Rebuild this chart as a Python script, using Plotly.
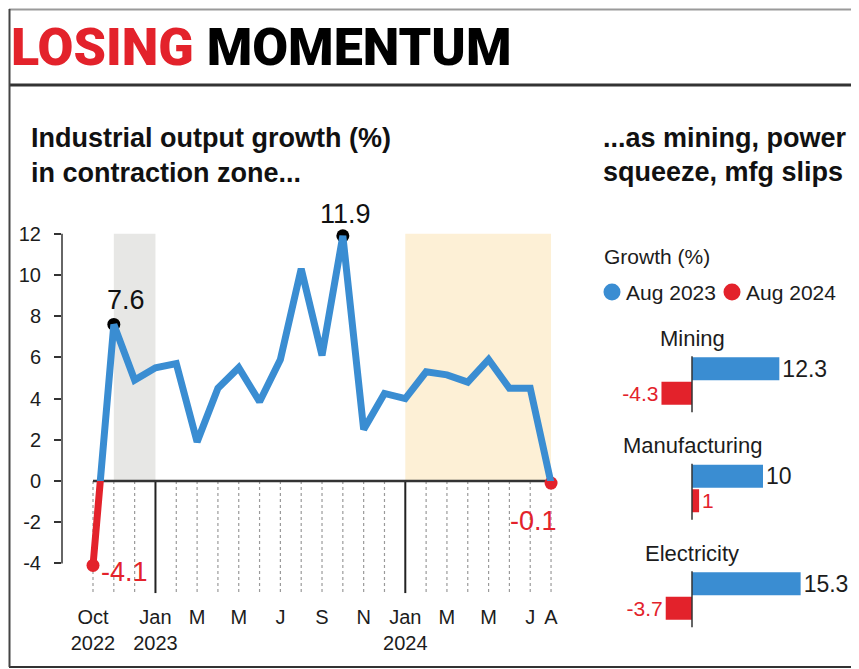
import plotly.graph_objects as go

# ---------------- data ----------------
months = ["Oct 2022", "Nov 2022", "Dec 2022", "Jan 2023", "Feb 2023", "Mar 2023",
          "Apr 2023", "May 2023", "Jun 2023", "Jul 2023", "Aug 2023", "Sep 2023",
          "Oct 2023", "Nov 2023", "Dec 2023", "Jan 2024", "Feb 2024", "Mar 2024",
          "Apr 2024", "May 2024", "Jun 2024", "Jul 2024", "Aug 2024"]
growth = [-4.1, 7.6, 4.9, 5.5, 5.7, 1.9, 4.5, 5.5, 3.85, 5.9, 10.3, 6.1,
          11.9, 2.5, 4.25, 4.0, 5.3, 5.15, 4.8, 5.9, 4.5, 4.5, -0.1]

tick_months = ["Oct 2022", "Jan 2023", "Mar 2023", "May 2023", "Jul 2023", "Sep 2023",
               "Nov 2023", "Jan 2024", "Mar 2024", "May 2024", "Jul 2024", "Aug 2024"]
tick_text = ["Oct<br>2022", "Jan<br>2023", "M", "M", "J", "S", "N",
             "Jan<br>2024", "M", "M", "J", "A"]
y_ticks = [-4, -2, 0, 2, 4, 6, 8, 10, 12]

labeled_months = ["Oct 2022", "Nov 2022", "Oct 2023", "Aug 2024"]
grey_period = ["Nov 2022", "Jan 2023"]
yellow_period = ["Jan 2024", "Aug 2024"]

sectors = ["Mining", "Manufacturing", "Electricity"]
aug_2023 = [12.3, 10, 15.3]
aug_2024 = [-4.3, 1, -3.7]
series_names = ["Aug 2023", "Aug 2024"]

title_red = "LOSING"
title_black = "MOMENTUM"
left_sub = ["Industrial output growth (%)", "in contraction zone..."]
right_sub = ["...as mining, power", "squeeze, mfg slips"]
legend_title = "Growth (%)"

# ---------------- style ----------------
PAGE_W, PAGE_H = 859, 669
OFF = 8                      # page body margin
W, H = PAGE_W - OFF, PAGE_H - OFF
BLUE = "#3a8dd2"
RED = "#e3222b"
DARK = "#1c1c1c"
FONT = "Liberation Sans, Arial, sans-serif"
HEAVY = "Roboto, Liberation Sans, Arial, sans-serif"


def px(x):
    return (x - OFF) / W


def py(y):
    return 1 - (y - OFF) / H


# left chart geometry (page pixels)
unit = 20.6
zero_px = 481
y_lo, y_hi = -5.45, 14
top_px = zero_px - y_hi * unit
bot_px = zero_px - y_lo * unit
step = 20.82
x0_px = 93
x_left_px, x_right_px = 62, 570
x_range = [(x_left_px - x0_px) / step, (x_right_px - x0_px) / step]

fig = go.Figure()

# line above zero (blue) and below zero (red), clipped by split axes
fig.add_trace(go.Scatter(x=months, y=growth, mode="lines", xaxis="x", yaxis="y2",
                         line=dict(color=BLUE, width=7), showlegend=False,
                         hoverinfo="skip"))
fig.add_trace(go.Scatter(x=months, y=growth, mode="lines", xaxis="x", yaxis="y3",
                         line=dict(color=RED, width=7), showlegend=False,
                         hoverinfo="skip"))

lab_vals = [growth[months.index(m)] for m in labeled_months]
fig.add_trace(go.Scatter(x=labeled_months, y=lab_vals, mode="markers", xaxis="x", yaxis="y",
                         marker=dict(size=13, color=[RED if v < 0 else "#000000" for v in lab_vals]),
                         cliponaxis=False, showlegend=False))

# bars
fig.add_trace(go.Bar(x=aug_2023, y=sectors, orientation="h", xaxis="x4", yaxis="y4",
                     marker=dict(color=BLUE, line=dict(width=0)),
                     text=[f"{v:g}" for v in aug_2023], textposition="outside",
                     constraintext="none", cliponaxis=False,
                     textfont=dict(family=FONT, size=23, color=DARK),
                     showlegend=False, name=series_names[0]))
fig.add_trace(go.Bar(x=aug_2024, y=sectors, orientation="h", xaxis="x4", yaxis="y4",
                     marker=dict(color=RED, line=dict(width=0)),
                     text=[f"{v:g}" for v in aug_2024], textposition="outside",
                     constraintext="none", cliponaxis=False,
                     textfont=dict(family=FONT, size=21, color=RED),
                     showlegend=False, name=series_names[1]))

shapes = []
gi = [months.index(m) for m in grey_period]
yi = [months.index(m) for m in yellow_period]
shapes.append(dict(type="rect", xref="x", yref="y", x0=gi[0], x1=gi[1], y0=0, y1=12,
                   fillcolor="#e7e7e5", line=dict(width=0), layer="below"))
shapes.append(dict(type="rect", xref="x", yref="y", x0=yi[0], x1=yi[1], y0=0, y1=12,
                   fillcolor="#fdf0d6", line=dict(width=0), layer="below"))
for i, m in enumerate(months):
    solid = m.startswith("Jan")
    shapes.append(dict(type="line", xref="x", yref="y", x0=i, x1=i, y0=0, y1=y_lo,
                       line=dict(color="#222222" if solid else "#9a9a9a",
                                 width=2 if solid else 1.2,
                                 dash="solid" if solid else "dot"),
                       layer="below"))
shapes.append(dict(type="line", xref="x", yref="y", x0=0, x1=len(months) - 1, y0=0, y1=0,
                   line=dict(color="#333333", width=2.5), layer="below"))
# y axis line (only between -4 and 12)
shapes.append(dict(type="line", xref="paper", yref="y", x0=px(x_left_px), x1=px(x_left_px),
                   y0=min(y_ticks), y1=max(y_ticks), line=dict(color="#333333", width=1.5)))
# bar group axis lines
for i, s in enumerate(sectors):
    shapes.append(dict(type="line", xref="x4", yref="y4", x0=0, x1=0, y0=i - 0.23, y1=i + 0.29,
                       line=dict(color="#333333", width=1.5), layer="above"))
# frame
shapes += [
    dict(type="line", xref="paper", yref="paper", x0=px(9), x1=1, y0=py(9.5), y1=py(9.5),
         line=dict(color="#9a9a9a", width=2)),
    dict(type="line", xref="paper", yref="paper", x0=px(9), x1=1, y0=py(85), y1=py(85),
         line=dict(color="#333333", width=3)),
    dict(type="line", xref="paper", yref="paper", x0=px(9), x1=1, y0=py(667), y1=py(667),
         line=dict(color="#333333", width=2)),
    dict(type="line", xref="paper", yref="paper", x0=px(9.5), x1=px(9.5), y0=py(9), y1=py(667),
         line=dict(color="#444444", width=2)),
]
# manual legend circles
leg_items = [612, 732]
r = 8.5
for cx, col in zip(leg_items, [BLUE, RED]):
    shapes.append(dict(type="circle", xref="paper", yref="paper",
                       x0=px(cx - r), x1=px(cx + r), y0=py(292 + r), y1=py(292 - r),
                       fillcolor=col, line=dict(width=0)))

ann = []
ann.append(dict(xref="paper", yref="paper", x=px(9), y=py(47), xanchor="left", yanchor="middle",
                text=f"<span style='color:{RED}'>{title_red}</span> {title_black}",
                showarrow=False, font=dict(family=HEAVY, size=52, color="#000000", weight=900)))
for k, t in enumerate(left_sub):
    ann.append(dict(xref="paper", yref="paper", x=px(29), y=py(138 + 35 * k), xanchor="left",
                    yanchor="middle", text=t, showarrow=False,
                    font=dict(family=FONT, size=27, color="#111111", weight="bold")))
for k, t in enumerate(right_sub):
    ann.append(dict(xref="paper", yref="paper", x=px(601), y=py(138 + 34 * k), xanchor="left",
                    yanchor="middle", text=t, showarrow=False,
                    font=dict(family=FONT, size=27, color="#111111", weight="bold")))
# legend text
ann.append(dict(xref="paper", yref="paper", x=px(602), y=py(256), xanchor="left", yanchor="middle",
                text=legend_title, showarrow=False, font=dict(family=FONT, size=21, color=DARK)))
for cx, nm in zip(leg_items, series_names):
    ann.append(dict(xref="paper", yref="paper", x=px(cx + 12), y=py(292), xanchor="left",
                    yanchor="middle", text=nm, showarrow=False,
                    font=dict(family=FONT, size=21, color=DARK)))
# point labels
offsets = {"Oct 2022": dict(xanchor="left", yanchor="middle", xshift=6, yshift=-7),
           "Nov 2022": dict(xanchor="center", yanchor="bottom", xshift=12, yshift=7),
           "Oct 2023": dict(xanchor="center", yanchor="bottom", xshift=3, yshift=5),
           "Aug 2024": dict(xanchor="center", yanchor="middle", xshift=-18, yshift=-38)}
for m, v in zip(labeled_months, lab_vals):
    ann.append(dict(xref="x", yref="y", x=m, y=v, text=f"{v:g}", showarrow=False,
                    font=dict(family=FONT, size=27, color=RED if v < 0 else "#111111"),
                    **offsets[m]))
# sector labels
for s in sectors:
    ann.append(dict(xref="x4", yref="y4", x=0, y=s, text=s, showarrow=False, yshift=43,
                    xanchor="center", yanchor="middle",
                    font=dict(family=FONT, size=22, color=DARK)))

# right chart geometry
bar_zero_px = 692
bar_unit = 7.1
bx_l, bx_r = 598, 858
mid_px, slot = 488.5, 107.5

fig.update_layout(
    template="none",
    width=W, height=H, margin=dict(l=0, r=0, t=0, b=0, autoexpand=False),
    paper_bgcolor="white", plot_bgcolor="rgba(0,0,0,0)",
    barmode="group", bargap=0.544, bargroupgap=0.06,
    showlegend=False,
    xaxis=dict(domain=[px(x_left_px), px(x_right_px)], range=x_range, type="category",
               anchor="y", showgrid=False, zeroline=False, showline=False, automargin=False,
               tickmode="array", tickvals=tick_months, ticktext=tick_text, ticks="",
               tickangle=0, ticklabelstandoff=10,
               tickfont=dict(family=FONT, size=20, color=DARK)),
    yaxis=dict(domain=[py(bot_px), py(top_px)], range=[y_lo, y_hi], anchor="x",
               showgrid=False, zeroline=False, showline=False, automargin=False,
               tickmode="array", tickvals=y_ticks, ticktext=[str(v) for v in y_ticks],
               ticks="outside", ticklen=7,
               tickwidth=1.5, tickcolor="#333333", ticklabelstandoff=9,
               tickfont=dict(family=FONT, size=20, color=DARK)),
    yaxis2=dict(domain=[py(zero_px), py(top_px)], range=[0, y_hi], anchor="x", visible=False),
    yaxis3=dict(domain=[py(bot_px), py(zero_px)], range=[y_lo, 0], anchor="x", visible=False),
    xaxis4=dict(domain=[px(bx_l), px(bx_r)],
                range=[(bx_l - bar_zero_px) / bar_unit, (bx_r - bar_zero_px) / bar_unit],
                anchor="y4", visible=False),
    yaxis4=dict(domain=[py(mid_px + 1.5 * slot), py(mid_px - 1.5 * slot)], range=[2.5, -0.5],
                type="category", anchor="x4", visible=False),
    shapes=shapes, annotations=ann,
)

fig.write_html("out.html")
